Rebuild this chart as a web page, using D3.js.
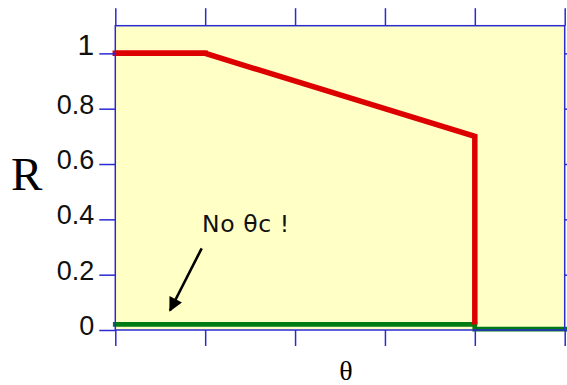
<!DOCTYPE html>
<html>
<head>
<meta charset="utf-8">
<script src="https://cdn.jsdelivr.net/npm/d3@7"></script>
<style>
  html, body { margin: 0; padding: 0; background: #ffffff; }
  svg { display: block; }
</style>
</head>
<body>
<svg id="chart" width="567" height="385"></svg>
<script>
// ---- data ----
const thetaTicks = [0, 1, 2, 3, 4, 5];
const rTicks = [0, 0.2, 0.4, 0.6, 0.8, 1];
const rTickLabels = ["0", "0.2", "0.4", "0.6", "0.8", "1"];
const redTheta = [0, 1, 4, 4];
const redR = [1, 1, 0.7, 0.02];
const greenTheta = [0, 4, 4, 5];
const greenR = [0.02, 0.02, 0.003, 0.003];
const annotationText = "No θc !";
const yLabel = "R";
const xLabel = "θ";

// ---- layout ----
const svg = d3.select("#chart");
const L = 115.3, R = 564.7, T = 25.7, B = 330;
const x = d3.scaleLinear().domain([0, 5]).range([L, R]);
const y = d3.scaleLinear().domain([0, 1.1]).range([B, T]);
const axisColor = "#2a2ad0";

// plot background
svg.append("rect")
  .attr("x", L).attr("y", T)
  .attr("width", R - L).attr("height", B - T)
  .attr("fill", "#ffffc6");

// lines
const line = d3.line().x(d => x(d[0])).y(d => y(d[1]));
const greenPts = greenTheta.map((t, i) => [t, greenR[i]]);
const redPts = redTheta.map((t, i) => [t, redR[i]]);

svg.append("path")
  .attr("d", line(greenPts))
  .attr("fill", "none")
  .attr("stroke", "#007a12")
  .attr("stroke-width", 4.8)
  .attr("stroke-linecap", "square");

svg.append("path")
  .attr("d", line(redPts))
  .attr("fill", "none")
  .attr("stroke", "#dd0000")
  .attr("stroke-width", 5.5)
  .attr("stroke-linecap", "butt")
  .attr("stroke-linejoin", "miter");
svg.append("path")
  .attr("d", line(redPts.slice(0, 2)))
  .attr("fill", "none")
  .attr("stroke", "#dd0000")
  .attr("stroke-width", 5.5)
  .attr("stroke-linecap", "square");

// axes
function styleAxis(g) {
  g.selectAll("path.domain").remove();
  g.selectAll(".tick line").attr("stroke", axisColor).attr("stroke-width", 1.5);
}
svg.append("g")
  .attr("transform", `translate(0,${B})`)
  .call(d3.axisBottom(x).tickValues(thetaTicks).tickSize(16).tickFormat(""))
  .call(styleAxis);
svg.append("g")
  .attr("transform", `translate(0,${T})`)
  .call(d3.axisTop(x).tickValues(thetaTicks).tickSize(17.5).tickFormat(""))
  .call(styleAxis);
svg.append("g")
  .attr("transform", `translate(${R},0)`)
  .call(d3.axisRight(y).tickValues(rTicks).tickSize(16).tickFormat(""))
  .call(styleAxis);
const yAxis = svg.append("g")
  .attr("transform", `translate(${L},0)`)
  .call(d3.axisLeft(y).tickValues(rTicks).tickSize(16).tickPadding(5)
    .tickFormat((d, i) => rTickLabels[i]))
  .call(styleAxis);
yAxis.selectAll(".tick text")
  .attr("fill", "#111")
  .attr("font-family", "'Liberation Sans', Arial, sans-serif")
  .attr("font-size", (d, i) => rTickLabels[i] === "1" ? 30 : 27)
  .attr("dy", (d, i) => rTickLabels[i] === "1" ? "0.05em" : "0.17em");

// frame
svg.append("rect")
  .attr("x", L).attr("y", T)
  .attr("width", R - L).attr("height", B - T)
  .attr("fill", "none")
  .attr("stroke", axisColor)
  .attr("stroke-width", 1.5);

// axis labels
svg.append("text")
  .attr("x", 11).attr("y", 189.5)
  .attr("font-family", "'Liberation Serif', 'Times New Roman', serif")
  .attr("font-size", 47)
  .attr("fill", "#000")
  .text(yLabel);
svg.append("text")
  .attr("x", 346).attr("y", 380)
  .attr("text-anchor", "middle")
  .attr("font-family", "'Liberation Serif', 'Times New Roman', serif")
  .attr("font-size", 28)
  .attr("fill", "#000")
  .text(xLabel);

// annotation
svg.append("text")
  .attr("x", 202).attr("y", 231.7)
  .attr("font-family", "'DejaVu Sans', sans-serif")
  .attr("font-size", 23.5)
  .attr("letter-spacing", 0.6)
  .attr("fill", "#111")
  .text(annotationText);

svg.append("defs").append("marker")
  .attr("id", "arrow")
  .attr("viewBox", "0 0 10 10")
  .attr("refX", 9).attr("refY", 5)
  .attr("markerUnits", "userSpaceOnUse")
  .attr("markerWidth", 17).attr("markerHeight", 14)
  .attr("orient", "auto")
  .append("path")
  .attr("d", "M0,0 L10,5 L0,10 Z")
  .attr("fill", "#000");

svg.append("line")
  .attr("x1", 201.7).attr("y1", 248.3)
  .attr("x2", 170).attr("y2", 310.5)
  .attr("stroke", "#000")
  .attr("stroke-width", 2.6)
  .attr("marker-end", "url(#arrow)");
</script>
</body>
</html>
